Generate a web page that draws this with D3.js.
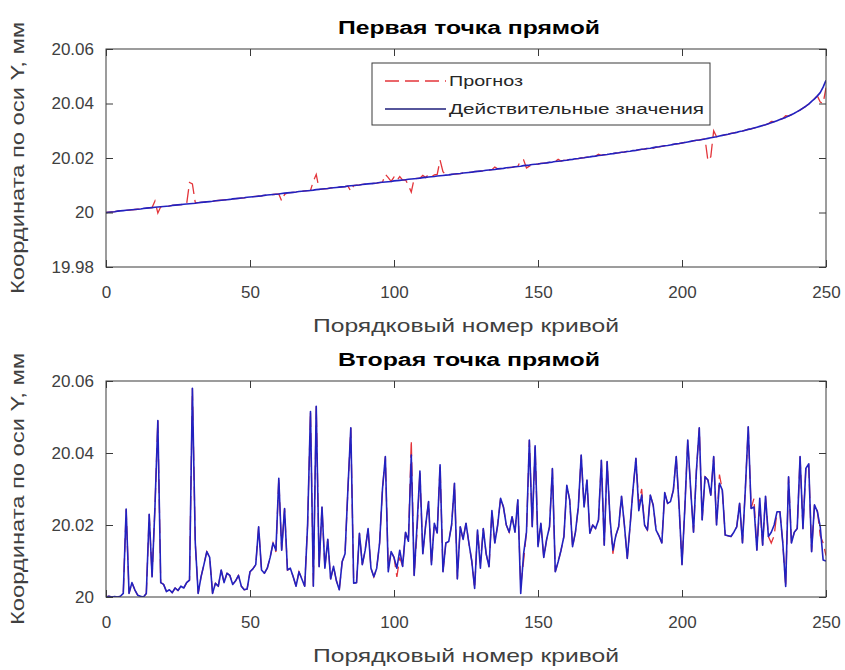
<!DOCTYPE html>
<html>
<head>
<meta charset="utf-8">
<script src="https://cdn.jsdelivr.net/npm/d3@7"></script>
<style>
  html, body { margin: 0; padding: 0; background: #fff; }
  svg text { font-family: "Liberation Sans", Arial, sans-serif; }
</style>
</head>
<body>
<div id="chart"></div>
<script>
const xTicks = [0, 50, 100, 150, 200, 250];
const topYTicks = [19.98, 20, 20.02, 20.04, 20.06];
const bottomYTicks = [20, 20.02, 20.04, 20.06];

const titles = ["Первая точка прямой", "Вторая точка прямой"];
const xLabel = "Порядковый номер кривой";
const yLabel = "Координата по оси Y, мм";
const legendLabels = ["Прогноз", "Действительные значения"];

// первая точка: действительные значения
const topFact = [
  20.0000, 20.0001, 20.0002, 20.0003, 20.0005, 20.0006, 20.0007, 20.0008, 20.0009, 20.0010,
  20.0011, 20.0012, 20.0013, 20.0015, 20.0016, 20.0017, 20.0018, 20.0019, 20.0020, 20.0021,
  20.0022, 20.0023, 20.0024, 20.0026, 20.0027, 20.0028, 20.0029, 20.0030, 20.0031, 20.0032,
  20.0033, 20.0034, 20.0036, 20.0037, 20.0038, 20.0039, 20.0040, 20.0041, 20.0043, 20.0044,
  20.0045, 20.0046, 20.0047, 20.0048, 20.0050, 20.0051, 20.0052, 20.0053, 20.0054, 20.0056,
  20.0057, 20.0058, 20.0059, 20.0060, 20.0061, 20.0063, 20.0064, 20.0065, 20.0066, 20.0067,
  20.0068, 20.0070, 20.0071, 20.0072, 20.0073, 20.0074, 20.0075, 20.0077, 20.0078, 20.0079,
  20.0080, 20.0081, 20.0082, 20.0084, 20.0085, 20.0086, 20.0087, 20.0088, 20.0090, 20.0091,
  20.0092, 20.0093, 20.0094, 20.0095, 20.0097, 20.0098, 20.0099, 20.0100, 20.0101, 20.0103,
  20.0104, 20.0105, 20.0106, 20.0107, 20.0108, 20.0110, 20.0111, 20.0112, 20.0113, 20.0114,
  20.0116, 20.0117, 20.0118, 20.0119, 20.0120, 20.0122, 20.0123, 20.0124, 20.0125, 20.0126,
  20.0128, 20.0129, 20.0130, 20.0131, 20.0132, 20.0134, 20.0135, 20.0136, 20.0137, 20.0138,
  20.0140, 20.0141, 20.0142, 20.0143, 20.0145, 20.0146, 20.0147, 20.0148, 20.0150, 20.0151,
  20.0152, 20.0153, 20.0155, 20.0156, 20.0157, 20.0158, 20.0160, 20.0161, 20.0162, 20.0164,
  20.0165, 20.0166, 20.0168, 20.0169, 20.0170, 20.0172, 20.0173, 20.0174, 20.0176, 20.0177,
  20.0178, 20.0180, 20.0181, 20.0182, 20.0184, 20.0185, 20.0187, 20.0188, 20.0189, 20.0191,
  20.0192, 20.0194, 20.0195, 20.0197, 20.0198, 20.0200, 20.0201, 20.0203, 20.0204, 20.0206,
  20.0207, 20.0209, 20.0210, 20.0212, 20.0213, 20.0215, 20.0216, 20.0218, 20.0219, 20.0221,
  20.0222, 20.0224, 20.0225, 20.0227, 20.0228, 20.0230, 20.0232, 20.0233, 20.0235, 20.0236,
  20.0238, 20.0240, 20.0241, 20.0243, 20.0245, 20.0246, 20.0248, 20.0250, 20.0252, 20.0253,
  20.0255, 20.0257, 20.0259, 20.0261, 20.0263, 20.0265, 20.0266, 20.0268, 20.0270, 20.0272,
  20.0274, 20.0276, 20.0278, 20.0281, 20.0283, 20.0285, 20.0287, 20.0290, 20.0292, 20.0294,
  20.0297, 20.0299, 20.0302, 20.0305, 20.0307, 20.0310, 20.0313, 20.0316, 20.0319, 20.0322,
  20.0326, 20.0329, 20.0333, 20.0337, 20.0341, 20.0345, 20.0349, 20.0354, 20.0359, 20.0364,
  20.0370, 20.0376, 20.0383, 20.0390, 20.0398, 20.0408, 20.0417, 20.0428, 20.0440, 20.0460, 20.0485
];

// первая точка: прогноз
const topPred = [
  20.0000, 20.0001, 20.0002, 20.0003, 20.0005, 20.0007, 20.0006, 20.0008, 20.0009, 20.0010,
  20.0011, 20.0012, 20.0013, 20.0015, 20.0016, 20.0017, 20.0018, 20.0042, 19.9998, 20.0021,
  20.0022, 20.0023, 20.0024, 20.0026, 20.0027, 20.0028, 20.0029, 20.0030, 20.0031, 20.0110,
  20.0105, 20.0036, 20.0036, 20.0037, 20.0038, 20.0039, 20.0040, 20.0041, 20.0043, 20.0044,
  20.0045, 20.0046, 20.0047, 20.0048, 20.0050, 20.0051, 20.0052, 20.0053, 20.0054, 20.0056,
  20.0057, 20.0058, 20.0059, 20.0060, 20.0061, 20.0063, 20.0064, 20.0065, 20.0066, 20.0067,
  20.0068, 20.0042, 20.0066, 20.0072, 20.0073, 20.0074, 20.0075, 20.0077, 20.0078, 20.0079,
  20.0080, 20.0081, 20.0115, 20.0140, 20.0085, 20.0086, 20.0087, 20.0088, 20.0090, 20.0091,
  20.0092, 20.0093, 20.0094, 20.0095, 20.0097, 20.0078, 20.0099, 20.0100, 20.0101, 20.0103,
  20.0104, 20.0105, 20.0106, 20.0107, 20.0108, 20.0110, 20.0111, 20.0140, 20.0128, 20.0114,
  20.0130, 20.0117, 20.0132, 20.0119, 20.0120, 20.0100, 20.0075, 20.0124, 20.0125, 20.0126,
  20.0136, 20.0128, 20.0140, 20.0131, 20.0138, 20.0140, 20.0192, 20.0150, 20.0137, 20.0138,
  20.0140, 20.0141, 20.0142, 20.0143, 20.0145, 20.0146, 20.0147, 20.0148, 20.0150, 20.0151,
  20.0152, 20.0153, 20.0155, 20.0156, 20.0157, 20.0167, 20.0160, 20.0161, 20.0162, 20.0164,
  20.0165, 20.0166, 20.0168, 20.0169, 20.0192, 20.0193, 20.0163, 20.0170, 20.0176, 20.0177,
  20.0178, 20.0180, 20.0181, 20.0182, 20.0184, 20.0185, 20.0187, 20.0195, 20.0189, 20.0191,
  20.0192, 20.0194, 20.0195, 20.0197, 20.0198, 20.0200, 20.0201, 20.0203, 20.0204, 20.0206,
  20.0207, 20.0214, 20.0210, 20.0212, 20.0213, 20.0215, 20.0216, 20.0218, 20.0219, 20.0221,
  20.0222, 20.0224, 20.0225, 20.0227, 20.0228, 20.0230, 20.0232, 20.0233, 20.0235, 20.0243,
  20.0236, 20.0240, 20.0241, 20.0243, 20.0245, 20.0246, 20.0248, 20.0250, 20.0252, 20.0253,
  20.0255, 20.0257, 20.0259, 20.0261, 20.0263, 20.0265, 20.0266, 20.0268, 20.0270, 20.0190,
  20.0205, 20.0300, 20.0278, 20.0281, 20.0283, 20.0285, 20.0287, 20.0290, 20.0292, 20.0294,
  20.0297, 20.0299, 20.0302, 20.0305, 20.0307, 20.0310, 20.0313, 20.0316, 20.0319, 20.0322,
  20.0326, 20.0334, 20.0333, 20.0337, 20.0341, 20.0345, 20.0355, 20.0354, 20.0359, 20.0364,
  20.0370, 20.0376, 20.0383, 20.0390, 20.0398, 20.0408, 20.0417, 20.0428, 20.0405, 20.0400, 20.0458
];

// вторая точка: действительные значения
const bottomFact = [
  20.0000, 20.0002, 20.0000, 20.0001, 20.0000, 20.0002, 20.0010, 20.0244, 20.0010, 20.0040,
  20.0020, 20.0005, 20.0002, 20.0000, 20.0010, 20.0230, 20.0056, 20.0250, 20.0490, 20.0040,
  20.0035, 20.0015, 20.0020, 20.0012, 20.0025, 20.0018, 20.0030, 20.0025, 20.0040, 20.0047,
  20.0580, 20.0150, 20.0010, 20.0056, 20.0090, 20.0126, 20.0110, 20.0010, 20.0038, 20.0030,
  20.0075, 20.0040, 20.0066, 20.0060, 20.0035, 20.0045, 20.0060, 20.0030, 20.0020, 20.0022,
  20.0070, 20.0078, 20.0090, 20.0195, 20.0075, 20.0066, 20.0080, 20.0110, 20.0150, 20.0130,
  20.0330, 20.0130, 20.0246, 20.0075, 20.0080, 20.0056, 20.0030, 20.0070, 20.0050, 20.0030,
  20.0200, 20.0515, 20.0030, 20.0530, 20.0084, 20.0250, 20.0080, 20.0160, 20.0050, 20.0085,
  20.0045, 20.0020, 20.0098, 20.0120, 20.0300, 20.0470, 20.0038, 20.0040, 20.0177, 20.0090,
  20.0130, 20.0190, 20.0080, 20.0056, 20.0080, 20.0150, 20.0300, 20.0390, 20.0070, 20.0126,
  20.0110, 20.0080, 20.0130, 20.0085, 20.0180, 20.0155, 20.0394, 20.0060, 20.0200, 20.0350,
  20.0120, 20.0200, 20.0265, 20.0090, 20.0205, 20.0178, 20.0367, 20.0070, 20.0150, 20.0154,
  20.0200, 20.0316, 20.0050, 20.0195, 20.0160, 20.0205, 20.0150, 20.0100, 20.0024, 20.0186,
  20.0080, 20.0190, 20.0120, 20.0084, 20.0240, 20.0150, 20.0200, 20.0274, 20.0250, 20.0200,
  20.0180, 20.0223, 20.0180, 20.0270, 20.0010, 20.0120, 20.0180, 20.0436, 20.0195, 20.0420,
  20.0140, 20.0205, 20.0110, 20.0160, 20.0195, 20.0357, 20.0070, 20.0098, 20.0130, 20.0168,
  20.0310, 20.0270, 20.0140, 20.0180, 20.0250, 20.0394, 20.0250, 20.0325, 20.0177, 20.0200,
  20.0190, 20.0214, 20.0380, 20.0144, 20.0376, 20.0218, 20.0130, 20.0170, 20.0195, 20.0280,
  20.0200, 20.0107, 20.0200, 20.0300, 20.0385, 20.0240, 20.0283, 20.0200, 20.0186, 20.0283,
  20.0255, 20.0186, 20.0170, 20.0150, 20.0290, 20.0260, 20.0265, 20.0297, 20.0390, 20.0250,
  20.0090, 20.0250, 20.0436, 20.0300, 20.0180, 20.0350, 20.0470, 20.0214, 20.0334, 20.0325,
  20.0283, 20.0390, 20.0200, 20.0316, 20.0297, 20.0172, 20.0170, 20.0168, 20.0180, 20.0195,
  20.0260, 20.0150, 20.0300, 20.0473, 20.0246, 20.0250, 20.0130, 20.0274, 20.0144, 20.0280,
  20.0168, 20.0180, 20.0200, 20.0237, 20.0237, 20.0150, 20.0029, 20.0334, 20.0150, 20.0180,
  20.0190, 20.0390, 20.0190, 20.0357, 20.0370, 20.0126, 20.0256, 20.0237, 20.0195, 20.0103, 20.0100
];

// вторая точка: прогноз
const bottomPred = [
  20.0000, 20.0002, 20.0000, 20.0001, 20.0000, 20.0002, 20.0010, 20.0244, 20.0010, 20.0040,
  20.0020, 20.0005, 20.0002, 20.0000, 20.0010, 20.0230, 20.0056, 20.0250, 20.0490, 20.0040,
  20.0035, 20.0015, 20.0020, 20.0012, 20.0025, 20.0018, 20.0030, 20.0025, 20.0040, 20.0047,
  20.0580, 20.0150, 20.0010, 20.0056, 20.0090, 20.0126, 20.0110, 20.0010, 20.0038, 20.0030,
  20.0075, 20.0040, 20.0066, 20.0060, 20.0035, 20.0045, 20.0060, 20.0030, 20.0020, 20.0022,
  20.0070, 20.0078, 20.0090, 20.0195, 20.0075, 20.0066, 20.0080, 20.0110, 20.0150, 20.0125,
  20.0330, 20.0130, 20.0246, 20.0075, 20.0080, 20.0056, 20.0030, 20.0070, 20.0050, 20.0030,
  20.0200, 20.0515, 20.0030, 20.0530, 20.0084, 20.0250, 20.0080, 20.0160, 20.0050, 20.0085,
  20.0045, 20.0020, 20.0098, 20.0120, 20.0300, 20.0470, 20.0038, 20.0040, 20.0177, 20.0090,
  20.0130, 20.0190, 20.0080, 20.0056, 20.0080, 20.0150, 20.0300, 20.0390, 20.0080, 20.0126,
  20.0110, 20.0056, 20.0110, 20.0085, 20.0180, 20.0155, 20.0436, 20.0060, 20.0180, 20.0350,
  20.0120, 20.0200, 20.0265, 20.0090, 20.0205, 20.0178, 20.0367, 20.0070, 20.0150, 20.0154,
  20.0200, 20.0316, 20.0050, 20.0195, 20.0160, 20.0205, 20.0150, 20.0100, 20.0024, 20.0186,
  20.0095, 20.0190, 20.0120, 20.0084, 20.0240, 20.0150, 20.0200, 20.0274, 20.0250, 20.0200,
  20.0180, 20.0223, 20.0180, 20.0270, 20.0030, 20.0100, 20.0180, 20.0436, 20.0195, 20.0420,
  20.0140, 20.0205, 20.0110, 20.0160, 20.0195, 20.0357, 20.0070, 20.0098, 20.0130, 20.0168,
  20.0310, 20.0270, 20.0140, 20.0180, 20.0250, 20.0394, 20.0250, 20.0325, 20.0177, 20.0200,
  20.0190, 20.0214, 20.0380, 20.0144, 20.0376, 20.0218, 20.0120, 20.0170, 20.0195, 20.0280,
  20.0200, 20.0107, 20.0200, 20.0300, 20.0385, 20.0260, 20.0300, 20.0200, 20.0186, 20.0283,
  20.0255, 20.0186, 20.0170, 20.0150, 20.0290, 20.0260, 20.0265, 20.0297, 20.0390, 20.0250,
  20.0090, 20.0250, 20.0436, 20.0300, 20.0180, 20.0350, 20.0470, 20.0214, 20.0334, 20.0325,
  20.0283, 20.0390, 20.0200, 20.0340, 20.0297, 20.0172, 20.0170, 20.0168, 20.0180, 20.0195,
  20.0260, 20.0150, 20.0300, 20.0473, 20.0246, 20.0274, 20.0130, 20.0255, 20.0144, 20.0280,
  20.0168, 20.0150, 20.0170, 20.0237, 20.0237, 20.0150, 20.0029, 20.0334, 20.0150, 20.0180,
  20.0190, 20.0390, 20.0190, 20.0357, 20.0370, 20.0126, 20.0256, 20.0240, 20.0170, 20.0150, 20.0115
];

const predColor = "#e3343a";
const factColor = "#2222c0";
const axisColor = "#3a3a3a";
const textColor = "#404040";

const width = 845;
const height = 670;
const plotLeft = 106;
const plotRight = 826;
const tickLen = 7;

const panels = [
  { top: 49, bottom: 267, yDomain: [19.98, 20.06], yTicks: topYTicks,
    fact: topFact, pred: topPred, title: titles[0], legend: true },
  { top: 381, bottom: 597, yDomain: [20, 20.06], yTicks: bottomYTicks,
    fact: bottomFact, pred: bottomPred, title: titles[1], legend: false }
];

const svg = d3.select("#chart")
  .append("svg")
  .attr("width", width)
  .attr("height", height);

const fmtY = d => d3.format("")(+d.toFixed(2));

panels.forEach(p => {
  const x = d3.scaleLinear().domain([0, 250]).range([plotLeft, plotRight]);
  const y = d3.scaleLinear().domain(p.yDomain).range([p.bottom, p.top]);
  const plotH = p.bottom - p.top;

  const g = svg.append("g");

  // clip the lines to the axes box
  const clipId = "clip" + p.top;
  g.append("clipPath").attr("id", clipId)
    .append("rect")
    .attr("x", plotLeft).attr("y", p.top)
    .attr("width", plotRight - plotLeft).attr("height", plotH);

  const line = d3.line()
    .x((d, i) => x(i))
    .y(d => y(d));

  const lines = g.append("g").attr("clip-path", `url(#${clipId})`);

  // прогноз first, действительные значения on top
  lines.append("path")
    .datum(p.pred)
    .attr("fill", "none")
    .attr("stroke", predColor)
    .attr("stroke-width", 1.3)
    .attr("stroke-dasharray", "14,6")
    .attr("d", line);

  lines.append("path")
    .datum(p.fact)
    .attr("fill", "none")
    .attr("stroke", factColor)
    .attr("stroke-width", 1.6)
    .attr("stroke-linejoin", "round")
    .attr("d", line);

  // axes, ticks pointing inwards on all four sides
  const xAxis = g.append("g")
    .attr("transform", `translate(0,${p.bottom})`)
    .call(d3.axisBottom(x).tickValues(xTicks).tickSizeInner(-tickLen).tickSizeOuter(0).tickPadding(19));
  const xAxisTop = g.append("g")
    .attr("transform", `translate(0,${p.top})`)
    .call(d3.axisTop(x).tickValues(xTicks).tickSizeInner(-tickLen).tickSizeOuter(0).tickFormat(""));
  const yAxis = g.append("g")
    .attr("transform", `translate(${plotLeft},0)`)
    .call(d3.axisLeft(y).tickValues(p.yTicks).tickSizeInner(-tickLen).tickSizeOuter(0).tickPadding(12).tickFormat(fmtY));
  const yAxisRight = g.append("g")
    .attr("transform", `translate(${plotRight},0)`)
    .call(d3.axisRight(y).tickValues(p.yTicks).tickSizeInner(-tickLen).tickSizeOuter(0).tickFormat(""));

  [xAxis, xAxisTop, yAxis, yAxisRight].forEach(a => {
    a.select(".domain").remove();
    a.selectAll(".tick line").attr("stroke", axisColor);
    a.selectAll(".tick text")
      .attr("fill", textColor)
      .style("font-size", "17px");
  });

  g.append("rect")
    .attr("x", plotLeft).attr("y", p.top)
    .attr("width", plotRight - plotLeft).attr("height", plotH)
    .attr("fill", "none")
    .attr("stroke", axisColor)
    .attr("stroke-width", 1);

  // title
  g.append("text")
    .attr("x", (plotLeft + plotRight) / 2 + 3)
    .attr("y", p.top - 15)
    .attr("text-anchor", "middle")
    .attr("textLength", 262)
    .attr("lengthAdjust", "spacingAndGlyphs")
    .style("font-size", "18px")
    .style("font-weight", "bold")
    .attr("fill", "#000")
    .text(p.title);

  // x label
  g.append("text")
    .attr("x", (plotLeft + plotRight) / 2)
    .attr("y", p.bottom + 65)
    .attr("text-anchor", "middle")
    .attr("textLength", 306)
    .attr("lengthAdjust", "spacingAndGlyphs")
    .style("font-size", "19px")
    .attr("fill", textColor)
    .text(xLabel);

  // y label
  g.append("text")
    .attr("transform", `translate(24,${(p.top + p.bottom) / 2}) rotate(-90)`)
    .attr("text-anchor", "middle")
    .attr("textLength", 272)
    .attr("lengthAdjust", "spacingAndGlyphs")
    .style("font-size", "19px")
    .attr("fill", textColor)
    .text(yLabel);

  if (p.legend) {
    const lg = g.append("g");
    lg.append("rect")
      .attr("x", 372).attr("y", 63)
      .attr("width", 338).attr("height", 62)
      .attr("fill", "#fff")
      .attr("stroke", axisColor)
      .attr("stroke-width", 1);

    const entries = [
      { label: legendLabels[0], color: predColor, dash: "14,6", len: 74, yy: 81 },
      { label: legendLabels[1], color: "#1e1e7a", dash: null, len: 255, yy: 109 }
    ];
    entries.forEach(e => {
      lg.append("line")
        .attr("x1", 385).attr("x2", 446)
        .attr("y1", e.yy).attr("y2", e.yy)
        .attr("stroke", e.color)
        .attr("stroke-width", 1.3)
        .attr("stroke-dasharray", e.dash);
      lg.append("text")
        .attr("x", 449)
        .attr("y", e.yy + 5)
        .attr("textLength", e.len)
        .attr("lengthAdjust", "spacingAndGlyphs")
        .style("font-size", "15px")
        .attr("fill", "#262626")
        .text(e.label);
    });
  }
});
</script>
</body>
</html>
